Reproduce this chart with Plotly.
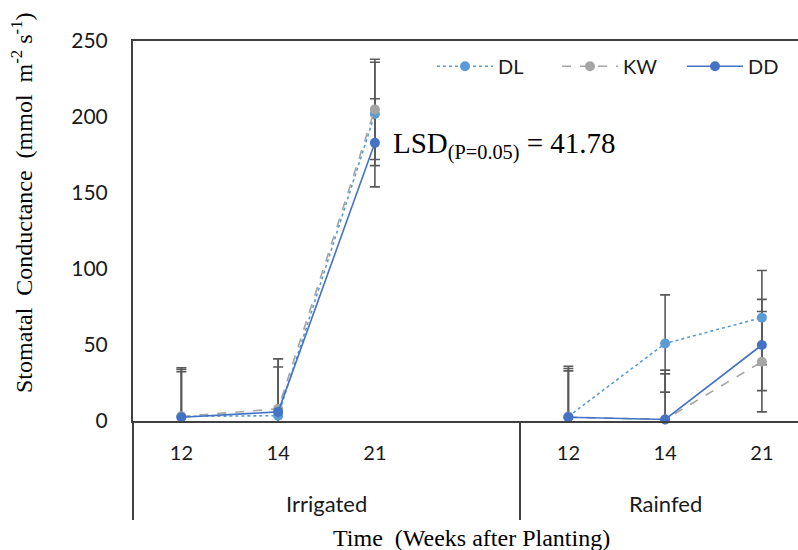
import plotly.graph_objects as go

# ---- data ----
groups = ["Irrigated", "Rainfed"]
weeks = ["12", "14", "21"]
series_names = ["DL", "KW", "DD"]

dl_irrigated = [3, 3.5, 202]
dl_rainfed = [3, 51, 68]
kw_irrigated = [3, 8, 205]
kw_rainfed = [2.5, 1, 39]
dd_irrigated = [2.5, 6, 183]
dd_rainfed = [2.5, 1, 50]

dl_err_irrigated = [32, 32, 34]
dl_err_rainfed = [33, 32, 31]
kw_err_irrigated = [31, 33, 33]
kw_err_rainfed = [32, 32.5, 33]
dd_err_irrigated = [30, 35, 29]
dd_err_rainfed = [30.5, 30, 30]

lsd_text = "LSD<sub>(P=0.05)</sub> = 41.78"

# category slots: 3 weeks + one blank slot in Irrigated, then 3 weeks in Rainfed
x_pos = [0, 1, 2, 3, 4, 5, 6]
tick_vals = [0, 1, 2, 4, 5, 6]
tick_text = weeks + weeks


def join(a, b):
    return list(a) + [None] + list(b)


series = [
    ("DL", join(dl_irrigated, dl_rainfed), join(dl_err_irrigated, dl_err_rainfed), "#5B9BD5", "dot"),
    ("KW", join(kw_irrigated, kw_rainfed), join(kw_err_irrigated, kw_err_rainfed), "#A5A5A5", "dash"),
    ("DD", join(dd_irrigated, dd_rainfed), join(dd_err_irrigated, dd_err_rainfed), "#4472C4", "solid"),
]

fig = go.Figure()

# error bars (clipped to plot area)
for name, ys, errs, color, dash in series:
    fig.add_trace(go.Scatter(
        x=x_pos, y=ys, mode="markers",
        marker=dict(size=1, color="rgba(0,0,0,0)"),
        error_y=dict(type="data", array=[e if e is not None else 0 for e in errs],
                     symmetric=True, color="#595959", thickness=1.6, width=5),
        showlegend=False, hoverinfo="skip", cliponaxis=True,
    ))

# lines + markers
for name, ys, errs, color, dash in series:
    fig.add_trace(go.Scatter(
        x=x_pos, y=ys, mode="lines+markers", name=name,
        line=dict(color=color, width=1.6, dash=dash),
        marker=dict(size=10, color=color, symbol="circle"),
        connectgaps=False, cliponaxis=False,
    ))

W, H = 798, 550
L, T, B = 133, 41, 550 - 421
pw, ph = W - L, H - T - B

sans = "Lato, 'Open Sans', sans-serif"
serif = "'Liberation Serif', 'DejaVu Serif', serif"
txt = "#1a1a1a"

fig.update_layout(
    width=W, height=H,
    margin=dict(l=L, r=0, t=T, b=B, pad=0, autoexpand=False),
    plot_bgcolor="white", paper_bgcolor="white",
    font=dict(family=sans, size=20, color=txt),
    xaxis=dict(
        range=[-0.5, -0.5 + pw / 96.75],
        tickvals=tick_vals, ticktext=tick_text,
        showgrid=False, zeroline=False,
        showline=True, linecolor="#404040", linewidth=2, mirror=True,
        ticks="", ticklabelstandoff=13,
        tickfont=dict(family=sans, size=20, color=txt),
        fixedrange=True, automargin=False,
    ),
    yaxis=dict(
        range=[0, 250], tickvals=[0, 50, 100, 150, 200, 250],
        showgrid=False, zeroline=False,
        showline=True, linecolor="#404040", linewidth=2,
        ticks="", ticklabelstandoff=19,
        tickfont=dict(family=sans, size=21, color=txt),
        fixedrange=True, automargin=False,
    ),
    legend=dict(
        orientation="h", xanchor="left", x=(432 - L) / pw, yanchor="top", y=0.985,
        font=dict(family=sans, size=20, color=txt),
        bgcolor="rgba(0,0,0,0)", itemwidth=56,
        entrywidth=54, entrywidthmode="pixels",
    ),
)

line_col = "#404040"
fig.add_shape(type="line", xref="x", yref="paper", x0=3.5, x1=3.5, y0=0, y1=(421 - 520) / ph,
              line=dict(color=line_col, width=2))
fig.add_shape(type="line", xref="paper", yref="paper", x0=0, x1=0, y0=0, y1=(421 - 520) / ph,
              line=dict(color=line_col, width=2))

# group labels
fig.add_annotation(text=groups[0], xref="x", yref="paper", x=1.5, y=(421 - 503) / ph,
                   showarrow=False, yanchor="middle", font=dict(family=sans, size=22, color=txt))
fig.add_annotation(text=groups[1], xref="x", yref="paper", x=5.0, y=(421 - 503) / ph,
                   showarrow=False, yanchor="middle", font=dict(family=sans, size=22, color=txt))

# axis titles
fig.add_annotation(text="Time  (Weeks after Planting)", xref="paper", yref="paper",
                   x=(471 - L) / pw, y=(421 - 538) / ph, showarrow=False,
                   xanchor="center", yanchor="middle", font=dict(family=serif, size=24, color="#000"))
fig.add_annotation(text="Stomatal  Conductance  (mmol  m<sup>-2</sup> s<sup>-1</sup>)",
                   xref="paper", yref="paper", x=(22 - L) / pw, y=(421 - 203) / ph,
                   textangle=-90, showarrow=False, xanchor="center", yanchor="middle",
                   font=dict(family=serif, size=24, color="#000"))

# LSD
fig.add_annotation(text=lsd_text, xref="paper", yref="paper",
                   x=(391 - L) / pw, y=(421 - 145) / ph, showarrow=False,
                   xanchor="left", yanchor="middle", font=dict(family=serif, size=29, color="#000"))

fig.write_html("out.html")
